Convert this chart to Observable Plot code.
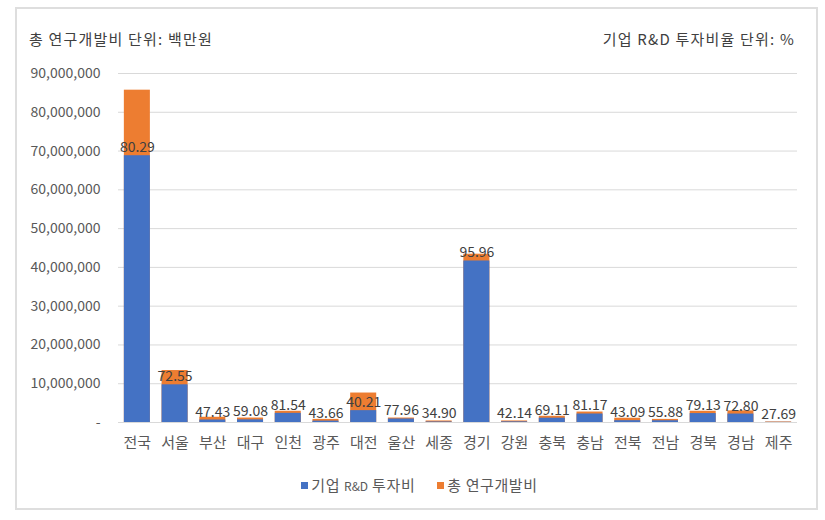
<!DOCTYPE html>
<html><head><meta charset="utf-8">
<script src="https://cdn.jsdelivr.net/npm/d3@7"></script>
<script src="https://cdn.jsdelivr.net/npm/@observablehq/plot@0.6"></script>
<style>
html,body{margin:0;padding:0;background:#fff;}
#page{position:relative;width:825px;height:520px;font-family:"Noto Sans CJK KR","Noto Sans",sans-serif;color:#404040;}
#frame{position:absolute;left:15px;top:7px;width:799px;height:499px;border:2px solid #dedede;box-sizing:content-box;}
.t{position:absolute;font-size:15px;letter-spacing:1.2px;color:#404040;white-space:nowrap;line-height:1;}
#chart{position:absolute;left:0;top:55px;}
#legend{position:absolute;top:474px;left:0;width:825px;display:flex;justify-content:center;gap:22px;font-size:15px;letter-spacing:0.6px;color:#595959;padding-left:14px;box-sizing:border-box;}
#legend span.sw{display:inline-block;width:7px;height:7px;margin-right:3px;vertical-align:middle;position:relative;top:-1px;}
#legend span.sm{font-size:12px;letter-spacing:0;}
</style></head>
<body>
<div id="page">
  <div id="frame"></div>
  <div class="t" style="left:29px;top:31px;">총 연구개발비 단위: 백만원</div>
  <div class="t" style="right:30px;top:31px;">기업 R&amp;D 투자비율 단위: %</div>
  <div id="chart"></div>
  <div id="legend"></div>
</div>
<script>
const regions = ["전국","서울","부산","대구","인천","광주","대전","울산","세종","경기","강원","충북","충남","전북","전남","경북","경남","제주"];
// 총 연구개발비 (백만원)
const totalRnD = [85700000,13400000,1350000,1150000,2900000,800000,7600000,1150000,400000,43400000,400000,1600000,2700000,1100000,800000,2900000,3000000,150000];
// 기업 R&D 투자비 (백만원)
const bizRnD = [68800000,9720000,640000,680000,2360000,350000,3060000,900000,140000,41650000,170000,1110000,2190000,470000,450000,2300000,2180000,42000];
// 기업 R&D 투자비율 (%)
const ratio = [80.29,72.55,47.43,59.08,81.54,43.66,40.21,77.96,34.90,95.96,42.14,69.11,81.17,43.09,55.88,79.13,72.80,27.69];
const seriesNames = ["기업 R&D 투자비","총 연구개발비"];
const seriesColors = ["#4472C4","#ED7D31"];
const yTicks = [0,10000000,20000000,30000000,40000000,50000000,60000000,70000000,80000000,90000000];

const data = regions.map((r,i)=>({region:r,total:totalRnD[i],biz:bizRnD[i],ratio:ratio[i]}));

const plot = Plot.plot({
  width: 825,
  height: 405,
  marginLeft: 118,
  marginRight: 28,
  marginTop: 18,
  marginBottom: 38,
  style: {fontFamily: '"Noto Sans CJK KR","Noto Sans",sans-serif', background: "transparent"},
  x: {domain: regions, paddingInner: 0.31, paddingOuter: 0.155, round: false, label: null},
  y: {domain: [0, 90000000], label: null},
  marks: [
    Plot.gridY(yTicks, {stroke: "#d9d9d9", strokeOpacity: 1, strokeWidth: 1}),
    Plot.axisY(yTicks, {tickSize: 0, tickPadding: 18, fontSize: 14, fill: "#595959",
      tickFormat: d => d === 0 ? "-" : d3.format(",")(d), label: null}),
    Plot.axisX({tickSize: 0, tickPadding: 15, fontSize: 15, fill: "#595959", label: null}),
    Plot.barY(data, {x: "region", y: "total", fill: seriesColors[1]}),
    Plot.barY(data, {x: "region", y: "biz", fill: seriesColors[0]}),
    Plot.ruleY([0], {stroke: "#d9d9d9"}),
    Plot.text(data, {x: "region", y: "biz", text: d => d.ratio.toFixed(2), lineAnchor: "middle", dy: -8, fontSize: 14, fill: "#404040"})
  ]
});
document.getElementById("chart").appendChild(plot);

const legend = document.getElementById("legend");
seriesNames.forEach((n,i)=>{
  const item = document.createElement("div");
  const sw = document.createElement("span");
  sw.className = "sw";
  sw.style.background = seriesColors[i];
  item.appendChild(sw);
  const m = n.match(/^(.*?)(R&D)(.*)$/);
  if (m) {
    item.appendChild(document.createTextNode(m[1]));
    const s = document.createElement("span");
    s.className = "sm";
    s.textContent = m[2];
    item.appendChild(s);
    item.appendChild(document.createTextNode(m[3]));
  } else {
    item.appendChild(document.createTextNode(n));
  }
  legend.appendChild(item);
});
</script>
</body></html>
